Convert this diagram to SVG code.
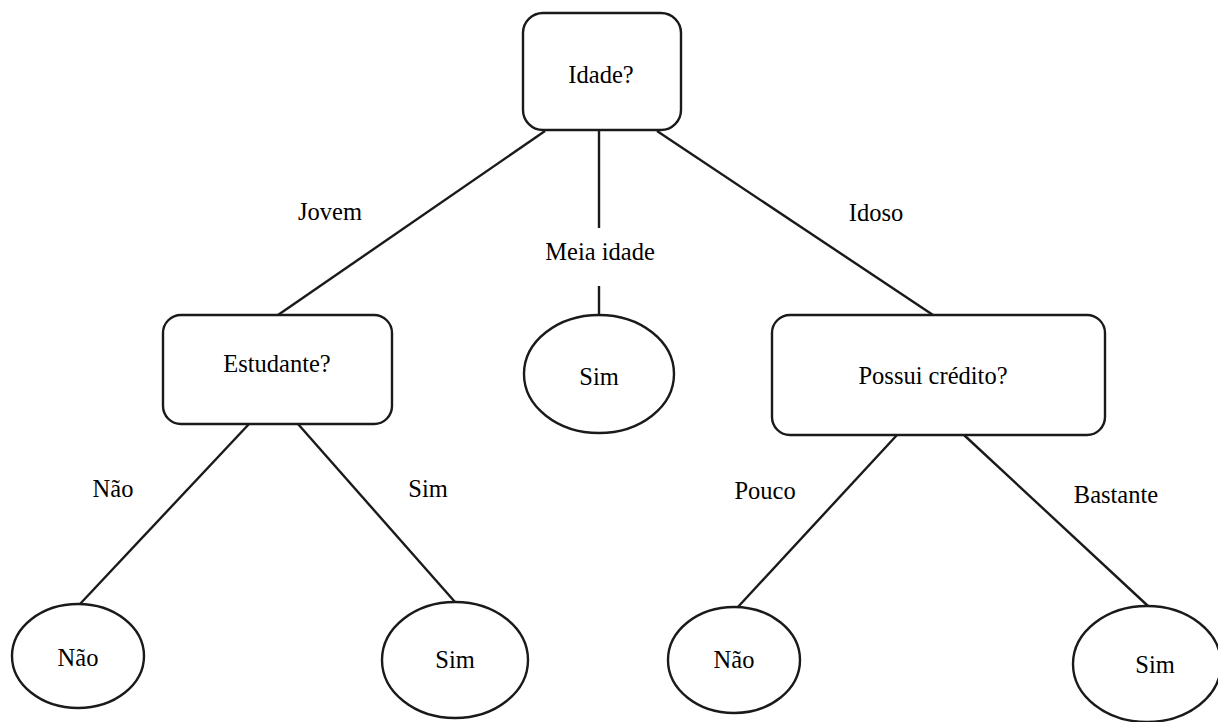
<svg xmlns="http://www.w3.org/2000/svg" width="1218" height="722" viewBox="0 0 1218 722">
  <style>
    .box { fill: #ffffff; stroke: #1a1a1a; stroke-width: 2.4; }
    .leaf { fill: #ffffff; stroke: #1a1a1a; stroke-width: 2.4; }
    .edge { stroke: #1a1a1a; stroke-width: 2.4; fill: none; }
    .lbl { font-size: 24.5px; fill: #000; text-anchor: middle; }
  </style>
  <rect width="1218" height="722" fill="#ffffff"/>

  <g font-family="Liberation Serif, 'Times New Roman', Times, serif">
  <!-- branches -->
  <g id="connectors">
    <line class="edge" x1="545" y1="131" x2="278" y2="315"/>
    <line class="edge" x1="599" y1="131" x2="599" y2="228"/>
    <line class="edge" x1="599" y1="286" x2="599" y2="315"/>
    <line class="edge" x1="657" y1="131" x2="933" y2="315"/>
    <line class="edge" x1="249" y1="424" x2="80" y2="604"/>
    <line class="edge" x1="298" y1="424" x2="455" y2="602"/>
    <line class="edge" x1="897" y1="435" x2="737" y2="608"/>
    <line class="edge" x1="964" y1="435" x2="1148" y2="606"/>
    <text class="lbl" x="330" y="220">Jovem</text>
    <text class="lbl" x="600" y="260">Meia idade</text>
    <text class="lbl" x="876" y="221">Idoso</text>
    <text class="lbl" x="113" y="497">Não</text>
    <text class="lbl" x="428" y="497">Sim</text>
    <text class="lbl" x="765" y="499">Pouco</text>
    <text class="lbl" x="1116" y="503">Bastante</text>
  </g>

  <!-- decision nodes -->
  <g id="node-idade">
    <rect class="box" x="523" y="13" width="158" height="117" rx="20"/>
    <text class="lbl" x="601" y="83">Idade?</text>
  </g>
  <g id="node-estudante">
    <rect class="box" x="163" y="315" width="229" height="109" rx="18"/>
    <text class="lbl" x="277" y="372">Estudante?</text>
  </g>
  <g id="node-credito">
    <rect class="box" x="772" y="315" width="333" height="120" rx="18"/>
    <text class="lbl" x="933" y="384">Possui crédito?</text>
  </g>

  <!-- leaves -->
  <g id="leaf-meia-sim">
    <ellipse class="leaf" cx="599" cy="374" rx="75" ry="59"/>
    <text class="lbl" x="599" y="385">Sim</text>
  </g>
  <g id="leaf-jovem-nao">
    <ellipse class="leaf" cx="78" cy="656" rx="66" ry="52"/>
    <text class="lbl" x="78" y="666">Não</text>
  </g>
  <g id="leaf-jovem-sim">
    <ellipse class="leaf" cx="455" cy="660" rx="73" ry="58"/>
    <text class="lbl" x="455" y="668">Sim</text>
  </g>
  <g id="leaf-pouco-nao">
    <ellipse class="leaf" cx="734" cy="660" rx="66" ry="53"/>
    <text class="lbl" x="734" y="668">Não</text>
  </g>
  <g id="leaf-bastante-sim">
    <ellipse class="leaf" cx="1147" cy="664" rx="74" ry="58"/>
    <text class="lbl" x="1155" y="673">Sim</text>
  </g>
  </g>
</svg>
